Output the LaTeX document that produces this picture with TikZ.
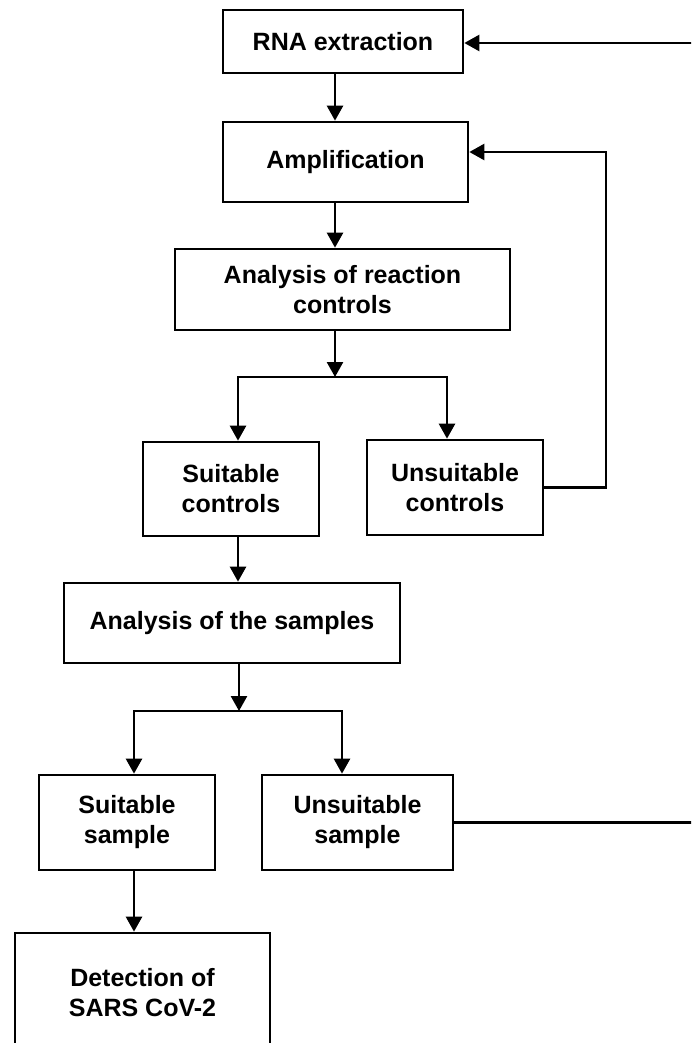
\documentclass[tikz,border=0pt]{standalone}
\usepackage{fontspec}
\setmainfont{Liberation Sans}
\usetikzlibrary{arrows.meta}
\begin{document}
\begin{tikzpicture}[x=1pt,y=1pt,
  box/.style={draw=black,line width=2.7pt,fill=white,inner sep=0pt,align=center,
    font=\fontsize{25}{30}\selectfont\bfseries},
  conn/.style={line width=2.6pt},
  arr/.style={conn,-{Triangle[width=16pt,length=15pt]}}]
\clip (0,0) rectangle (691,-1043);
\fill[white] (0,0) rectangle (691,-1043);
% boxes
\node[box,minimum width=240pt,minimum height=63pt] (rna) at (343,-41.5) {RNA extraction};
\node[box,minimum width=245pt,minimum height=80pt] (amp) at (345.5,-162) {Amplification};
\node[box,minimum width=335pt,minimum height=81pt] (arc) at (342.5,-289.5) {Analysis of reaction\\controls};
\node[box,minimum width=176pt,minimum height=94pt] (sc) at (231,-489) {Suitable\\controls};
\node[box,minimum width=176pt,minimum height=95pt] (uc) at (455,-487.5) {Unsuitable\\controls};
\node[box,minimum width=336pt,minimum height=80pt] (as) at (232,-623) {Analysis of the samples};
\node[box,minimum width=176pt,minimum height=95pt] (ss) at (127,-822.5) {Suitable\\sample};
\node[box,minimum width=191pt,minimum height=95pt] (us) at (357.5,-822.5) {Unsuitable\\sample};
\node[box,minimum width=255pt,minimum height=119pt] (det) at (142.5,-992.5) {Detection of\\SARS CoV-2};
% helper coordinates
\coordinate (t1) at (335,0);
\coordinate (t2) at (238,0);
\coordinate (t3) at (447,0);
\coordinate (t4) at (239,0);
\coordinate (t5) at (134,0);
\coordinate (t6) at (342,0);
\coordinate (j1) at (335,-377);
\coordinate (j2) at (239,-711);
\coordinate (fb1) at (606,-152);
\coordinate (fb2) at (700,-43);
% connectors
\draw[arr] (rna.south -| t1) -- (amp.north -| t1);
\draw[arr] (amp.south -| t1) -- (arc.north -| t1);
\draw[arr] (arc.south -| t1) -- (j1);
\draw[arr] (j1) -- (j1 -| t2) -- (sc.north -| t2);
\draw[arr] (j1) -- (j1 -| t3) -- (uc.north -| t3);
\draw[arr] (uc.east) -- (uc.east -| fb1) -- (fb1) -- (amp.east |- fb1);
\draw[arr] (sc.south -| t2) -- (as.north -| t2);
\draw[arr] (as.south -| t4) -- (j2);
\draw[arr] (j2) -- (j2 -| t5) -- (ss.north -| t5);
\draw[arr] (j2) -- (j2 -| t6) -- (us.north -| t6);
\draw[arr] (ss.south -| t5) -- (det.north -| t5);
\draw[arr] (us.east) -- (us.east -| fb2) -- (fb2) -- (rna.east |- fb2);
\end{tikzpicture}
\end{document}
